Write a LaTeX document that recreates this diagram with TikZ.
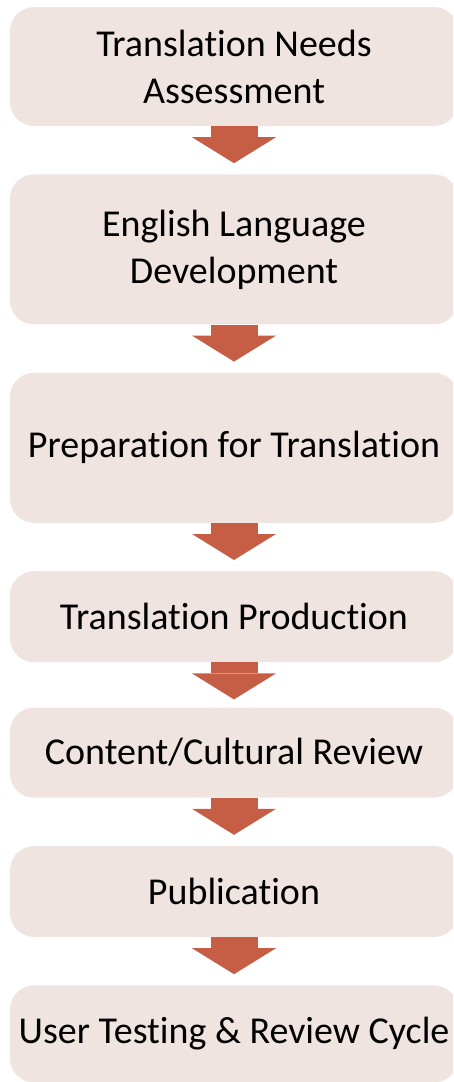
\documentclass[tikz,border=0pt]{standalone}
\usepackage{fontspec}
\setmainfont{Carlito}[Ligatures=NoCommon]
\usetikzlibrary{positioning,arrows.meta}
\definecolor{phasefill}{RGB}{240,228,224}
\definecolor{phasearrow}{RGB}{198,94,70}
\begin{document}
\begin{tikzpicture}

			\tikzstyle{phase}=[fill=phasefill,draw=none,rounded corners=24pt,
				minimum width=448pt,inner sep=2pt,align=center,
				font=\fontsize{38}{47}\selectfont,
				node distance=48pt]
			\tikzstyle{flow}=[phasearrow,line width=47pt,
				-{Triangle[length=26pt,width=84pt,line width=0pt]},
				shorten >=11pt]

			\useasboundingbox (0,0) rectangle (453pt,-1082pt);
			\clip (0,0) rectangle (453pt,-1082pt);

			\node[phase,minimum height=119pt] (1) at (234pt,-66.5pt) {Translation Needs\\Assessment};
			\node[phase,minimum height=150pt,below=of 1]	(2)	{English Language\\Development};
			\node[phase,minimum height=150pt,below=of 2]	(3)	{Preparation for Translation};
			\node[phase,minimum height=91pt,below=of 3]	(4)	{Translation Production};
			\node[phase,minimum height=90pt,below=45pt of 4]	(5)	{Content/Cultural Review};
			\node[phase,minimum height=91pt,below=of 5]	(6)	{Publication};
			\node[phase,minimum height=97pt,below=of 6]	(7)	{User Testing \& Review Cycle};

			\draw[flow] (1.south) -- (2.north);
			\draw[flow] (2.south) -- (3.north);
			\draw[flow] (3.south) -- (4.north);
			\draw[flow,shorten >=8pt] (4.south) -- (5.north);
			\draw[flow] (5.south) -- (6.north);
			\draw[flow] (6.south) -- (7.north);

			\end{tikzpicture}
\end{document}
